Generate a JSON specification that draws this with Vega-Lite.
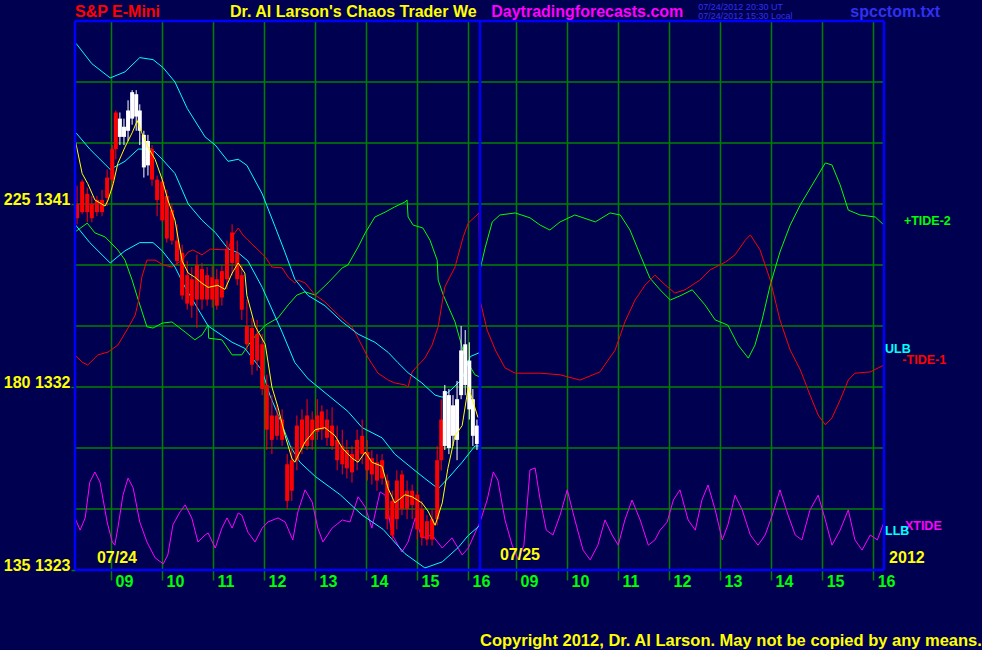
{
  "$schema": "https://vega.github.io/schema/vega-lite/v6.json",
  "width": 809,
  "height": 549,
  "autosize": {"type": "none"},
  "padding": {"left": 75, "top": 21, "right": 98, "bottom": 80},
  "background": "#000050",
  "config": {"view": {"stroke": null}, "axis": {"labelFont": "Liberation Sans", "labelFontWeight": "bold"}},
  "datasets": {
    "bars": [
      {"t":0.04,"h":1341.9,"l":1340.0,"o":1341.0,"c":1340.3,"k":"R"},
      {"t":0.14,"h":1342.2,"l":1340.5,"o":1342.1,"c":1340.6,"k":"R"},
      {"t":0.24,"h":1341.8,"l":1340.1,"o":1341.5,"c":1340.6,"k":"R"},
      {"t":0.33,"h":1341.4,"l":1340.1,"o":1341.0,"c":1340.3,"k":"R"},
      {"t":0.43,"h":1341.4,"l":1340.4,"o":1341.2,"c":1340.6,"k":"R"},
      {"t":0.53,"h":1341.7,"l":1340.4,"o":1341.2,"c":1340.6,"k":"R"},
      {"t":0.63,"h":1342.7,"l":1340.9,"o":1342.3,"c":1341.3,"k":"R"},
      {"t":0.73,"h":1343.9,"l":1341.7,"o":1343.7,"c":1342.2,"k":"R"},
      {"t":0.80,"h":1345.6,"l":1343.2,"o":1345.5,"c":1343.7,"k":"R"},
      {"t":0.88,"h":1345.5,"l":1343.9,"o":1345.2,"c":1344.3,"k":"W"},
      {"t":0.96,"h":1345.2,"l":1343.9,"o":1344.8,"c":1344.3,"k":"W"},
      {"t":1.04,"h":1346.1,"l":1344.1,"o":1345.6,"c":1344.6,"k":"W"},
      {"t":1.12,"h":1346.6,"l":1344.9,"o":1346.5,"c":1345.2,"k":"W"},
      {"t":1.20,"h":1346.6,"l":1344.6,"o":1346.4,"c":1345.3,"k":"W"},
      {"t":1.27,"h":1345.9,"l":1343.9,"o":1345.6,"c":1344.6,"k":"W"},
      {"t":1.35,"h":1344.6,"l":1342.3,"o":1344.4,"c":1342.8,"k":"W"},
      {"t":1.43,"h":1344.4,"l":1342.4,"o":1344.1,"c":1342.9,"k":"W"},
      {"t":1.51,"h":1343.9,"l":1341.9,"o":1343.7,"c":1342.2,"k":"R"},
      {"t":1.61,"h":1342.4,"l":1340.4,"o":1342.2,"c":1341.2,"k":"R"},
      {"t":1.71,"h":1342.3,"l":1340.1,"o":1342.1,"c":1340.2,"k":"R"},
      {"t":1.80,"h":1341.7,"l":1339.1,"o":1341.4,"c":1339.3,"k":"R"},
      {"t":1.90,"h":1341.0,"l":1339.0,"o":1340.7,"c":1339.2,"k":"R"},
      {"t":2.00,"h":1340.0,"l":1338.0,"o":1339.2,"c":1338.2,"k":"R"},
      {"t":2.10,"h":1339.0,"l":1336.3,"o":1338.6,"c":1336.5,"k":"R"},
      {"t":2.20,"h":1338.2,"l":1335.8,"o":1337.5,"c":1336.1,"k":"R"},
      {"t":2.29,"h":1337.9,"l":1335.4,"o":1337.3,"c":1336.0,"k":"R"},
      {"t":2.39,"h":1338.5,"l":1334.9,"o":1338.0,"c":1336.3,"k":"R"},
      {"t":2.49,"h":1338.1,"l":1335.8,"o":1337.8,"c":1336.3,"k":"R"},
      {"t":2.59,"h":1337.9,"l":1336.0,"o":1337.5,"c":1336.3,"k":"R"},
      {"t":2.69,"h":1338.0,"l":1335.9,"o":1337.4,"c":1336.3,"k":"R"},
      {"t":2.78,"h":1337.8,"l":1335.8,"o":1337.3,"c":1336.0,"k":"R"},
      {"t":2.88,"h":1338.0,"l":1336.0,"o":1337.7,"c":1336.4,"k":"R"},
      {"t":2.98,"h":1339.2,"l":1336.8,"o":1338.8,"c":1337.3,"k":"R"},
      {"t":3.08,"h":1340.0,"l":1337.5,"o":1339.6,"c":1338.1,"k":"R"},
      {"t":3.18,"h":1339.2,"l":1337.0,"o":1338.6,"c":1337.3,"k":"R"},
      {"t":3.27,"h":1338.0,"l":1335.3,"o":1337.5,"c":1335.8,"k":"R"},
      {"t":3.37,"h":1336.3,"l":1333.8,"o":1335.0,"c":1334.1,"k":"R"},
      {"t":3.47,"h":1335.4,"l":1332.6,"o":1334.9,"c":1333.1,"k":"R"},
      {"t":3.57,"h":1335.3,"l":1332.8,"o":1334.6,"c":1333.3,"k":"R"},
      {"t":3.67,"h":1334.6,"l":1331.6,"o":1334.1,"c":1331.9,"k":"R"},
      {"t":3.76,"h":1332.6,"l":1328.9,"o":1332.1,"c":1329.9,"k":"R"},
      {"t":3.86,"h":1331.6,"l":1328.7,"o":1330.6,"c":1329.4,"k":"R"},
      {"t":3.96,"h":1331.1,"l":1329.4,"o":1330.6,"c":1329.6,"k":"R"},
      {"t":4.06,"h":1330.9,"l":1329.1,"o":1330.4,"c":1329.4,"k":"R"},
      {"t":4.16,"h":1328.7,"l":1326.0,"o":1328.2,"c":1326.4,"k":"R"},
      {"t":4.25,"h":1329.1,"l":1326.4,"o":1328.4,"c":1326.9,"k":"R"},
      {"t":4.35,"h":1330.6,"l":1327.9,"o":1330.1,"c":1328.4,"k":"R"},
      {"t":4.45,"h":1330.9,"l":1328.7,"o":1330.4,"c":1329.0,"k":"R"},
      {"t":4.55,"h":1331.4,"l":1328.9,"o":1330.6,"c":1329.1,"k":"R"},
      {"t":4.65,"h":1330.8,"l":1328.9,"o":1330.4,"c":1329.4,"k":"R"},
      {"t":4.75,"h":1331.4,"l":1329.4,"o":1330.6,"c":1329.8,"k":"R"},
      {"t":4.84,"h":1331.1,"l":1329.4,"o":1330.8,"c":1329.9,"k":"R"},
      {"t":4.94,"h":1330.9,"l":1329.1,"o":1330.4,"c":1329.5,"k":"R"},
      {"t":5.04,"h":1331.0,"l":1328.9,"o":1330.1,"c":1329.1,"k":"R"},
      {"t":5.14,"h":1330.1,"l":1327.9,"o":1329.4,"c":1328.4,"k":"R"},
      {"t":5.24,"h":1329.9,"l":1327.7,"o":1329.1,"c":1328.2,"k":"R"},
      {"t":5.33,"h":1329.4,"l":1327.5,"o":1328.9,"c":1328.0,"k":"R"},
      {"t":5.43,"h":1329.1,"l":1327.3,"o":1328.7,"c":1327.8,"k":"R"},
      {"t":5.53,"h":1329.9,"l":1327.9,"o":1329.4,"c":1328.4,"k":"R"},
      {"t":5.63,"h":1330.4,"l":1328.2,"o":1329.6,"c":1328.7,"k":"R"},
      {"t":5.73,"h":1329.4,"l":1327.4,"o":1328.8,"c":1327.9,"k":"R"},
      {"t":5.82,"h":1328.9,"l":1327.2,"o":1328.5,"c":1327.7,"k":"R"},
      {"t":5.92,"h":1328.7,"l":1326.9,"o":1328.3,"c":1327.4,"k":"R"},
      {"t":6.02,"h":1328.7,"l":1327.2,"o":1328.4,"c":1327.5,"k":"R"},
      {"t":6.12,"h":1327.7,"l":1325.0,"o":1327.4,"c":1325.5,"k":"R"},
      {"t":6.22,"h":1326.9,"l":1324.5,"o":1326.4,"c":1324.7,"k":"R"},
      {"t":6.31,"h":1327.9,"l":1325.0,"o":1327.4,"c":1325.5,"k":"R"},
      {"t":6.41,"h":1327.9,"l":1325.7,"o":1327.7,"c":1326.0,"k":"R"},
      {"t":6.51,"h":1327.4,"l":1325.5,"o":1326.9,"c":1326.0,"k":"R"},
      {"t":6.61,"h":1327.2,"l":1325.5,"o":1326.9,"c":1326.2,"k":"R"},
      {"t":6.71,"h":1326.9,"l":1324.5,"o":1326.7,"c":1325.0,"k":"R"},
      {"t":6.80,"h":1326.4,"l":1324.2,"o":1326.0,"c":1324.6,"k":"R"},
      {"t":6.90,"h":1325.7,"l":1324.2,"o":1325.4,"c":1324.5,"k":"R"},
      {"t":7.00,"h":1326.0,"l":1324.2,"o":1325.5,"c":1324.5,"k":"R"},
      {"t":7.10,"h":1329.1,"l":1325.2,"o":1328.4,"c":1325.5,"k":"R"},
      {"t":7.18,"h":1331.4,"l":1327.9,"o":1330.4,"c":1328.4,"k":"R"},
      {"t":7.25,"h":1332.1,"l":1328.9,"o":1331.8,"c":1329.1,"k":"W"},
      {"t":7.33,"h":1331.9,"l":1328.7,"o":1331.6,"c":1329.0,"k":"W"},
      {"t":7.41,"h":1331.6,"l":1329.1,"o":1331.1,"c":1329.6,"k":"W"},
      {"t":7.49,"h":1332.3,"l":1328.4,"o":1331.4,"c":1329.4,"k":"W"},
      {"t":7.57,"h":1335.0,"l":1331.4,"o":1333.8,"c":1331.6,"k":"W"},
      {"t":7.65,"h":1334.8,"l":1331.6,"o":1334.1,"c":1332.1,"k":"W"},
      {"t":7.73,"h":1334.2,"l":1330.4,"o":1333.3,"c":1330.9,"k":"W"},
      {"t":7.80,"h":1331.9,"l":1329.1,"o":1331.4,"c":1329.6,"k":"W"},
      {"t":7.88,"h":1330.4,"l":1328.9,"o":1330.1,"c":1329.2,"k":"W"}
    ],
    "bands": [
      {"s":"ULB","t":0.02,"p":1348.9},{"s":"ULB","t":0.33,"p":1347.9},{"s":"ULB","t":0.69,"p":1347.2},{"s":"ULB","t":0.98,"p":1347.5},{"s":"ULB","t":1.27,"p":1348.2},{"s":"ULB","t":1.53,"p":1348.1},{"s":"ULB","t":1.73,"p":1347.7},{"s":"ULB","t":1.96,"p":1347.0},{"s":"ULB","t":2.20,"p":1345.7},{"s":"ULB","t":2.55,"p":1344.3},{"s":"ULB","t":2.75,"p":1343.9},{"s":"ULB","t":3.00,"p":1343.1},{"s":"ULB","t":3.20,"p":1343.2},{"s":"ULB","t":3.37,"p":1342.9},{"s":"ULB","t":3.67,"p":1341.5},{"s":"ULB","t":3.92,"p":1339.9},{"s":"ULB","t":4.12,"p":1338.6},{"s":"ULB","t":4.31,"p":1337.3},{"s":"ULB","t":4.57,"p":1336.5},{"s":"ULB","t":4.90,"p":1336.0},{"s":"ULB","t":5.24,"p":1335.2},{"s":"ULB","t":5.55,"p":1334.6},{"s":"ULB","t":5.88,"p":1334.2},{"s":"ULB","t":6.14,"p":1333.7},{"s":"ULB","t":6.33,"p":1333.2},{"s":"ULB","t":6.53,"p":1332.7},{"s":"ULB","t":6.80,"p":1332.2},{"s":"ULB","t":7.06,"p":1331.6},{"s":"ULB","t":7.20,"p":1331.5},{"s":"ULB","t":7.39,"p":1331.9},{"s":"ULB","t":7.59,"p":1332.4},{"s":"ULB","t":7.75,"p":1333.5},{"s":"ULB","t":7.94,"p":1333.7},
      {"s":"MID","t":0.02,"p":1344.5},{"s":"MID","t":0.29,"p":1343.7},{"s":"MID","t":0.69,"p":1342.7},{"s":"MID","t":0.98,"p":1343.1},{"s":"MID","t":1.24,"p":1343.7},{"s":"MID","t":1.51,"p":1343.7},{"s":"MID","t":1.71,"p":1343.2},{"s":"MID","t":1.96,"p":1342.5},{"s":"MID","t":2.22,"p":1341.0},{"s":"MID","t":2.49,"p":1340.2},{"s":"MID","t":2.75,"p":1339.6},{"s":"MID","t":3.00,"p":1338.8},{"s":"MID","t":3.20,"p":1338.6},{"s":"MID","t":3.39,"p":1338.2},{"s":"MID","t":3.67,"p":1336.9},{"s":"MID","t":4.06,"p":1334.7},{"s":"MID","t":4.31,"p":1333.2},{"s":"MID","t":4.57,"p":1332.4},{"s":"MID","t":4.96,"p":1331.6},{"s":"MID","t":5.35,"p":1330.8},{"s":"MID","t":5.63,"p":1330.0},{"s":"MID","t":6.02,"p":1329.5},{"s":"MID","t":6.27,"p":1328.7},{"s":"MID","t":6.61,"p":1328.0},{"s":"MID","t":6.86,"p":1327.5},{"s":"MID","t":7.12,"p":1327.0},{"s":"MID","t":7.31,"p":1327.5},{"s":"MID","t":7.59,"p":1328.3},{"s":"MID","t":7.84,"p":1329.1},{"s":"MID","t":7.94,"p":1329.1},
      {"s":"LLB","t":0.00,"p":1340.0},{"s":"LLB","t":0.29,"p":1339.1},{"s":"LLB","t":0.69,"p":1338.1},{"s":"LLB","t":0.98,"p":1338.7},{"s":"LLB","t":1.27,"p":1339.1},{"s":"LLB","t":1.53,"p":1339.1},{"s":"LLB","t":1.71,"p":1338.7},{"s":"LLB","t":1.96,"p":1337.9},{"s":"LLB","t":2.16,"p":1336.9},{"s":"LLB","t":2.61,"p":1335.0},{"s":"LLB","t":3.08,"p":1334.2},{"s":"LLB","t":3.33,"p":1333.9},{"s":"LLB","t":3.67,"p":1332.8},{"s":"LLB","t":3.82,"p":1331.6},{"s":"LLB","t":4.02,"p":1330.4},{"s":"LLB","t":4.22,"p":1329.1},{"s":"LLB","t":4.41,"p":1328.3},{"s":"LLB","t":4.71,"p":1327.6},{"s":"LLB","t":5.20,"p":1326.7},{"s":"LLB","t":5.63,"p":1325.7},{"s":"LLB","t":6.04,"p":1325.0},{"s":"LLB","t":6.47,"p":1323.8},{"s":"LLB","t":6.86,"p":1323.1},{"s":"LLB","t":7.20,"p":1323.4},{"s":"LLB","t":7.51,"p":1324.1},{"s":"LLB","t":7.71,"p":1324.7},{"s":"LLB","t":7.94,"p":1325.2}
    ],
    "ma": [
      {"s":"MA","t":0.00,"p":1344.2},{"s":"MA","t":0.14,"p":1342.5},{"s":"MA","t":0.25,"p":1342.0},{"s":"MA","t":0.39,"p":1341.2},{"s":"MA","t":0.59,"p":1340.9},{"s":"MA","t":0.65,"p":1341.2},{"s":"MA","t":0.75,"p":1342.0},{"s":"MA","t":0.84,"p":1343.0},{"s":"MA","t":0.98,"p":1343.8},{"s":"MA","t":1.12,"p":1344.5},{"s":"MA","t":1.22,"p":1345.1},{"s":"MA","t":1.31,"p":1344.5},{"s":"MA","t":1.43,"p":1343.8},{"s":"MA","t":1.57,"p":1343.2},{"s":"MA","t":1.71,"p":1342.2},{"s":"MA","t":1.82,"p":1341.2},{"s":"MA","t":1.96,"p":1340.2},{"s":"MA","t":2.10,"p":1338.2},{"s":"MA","t":2.22,"p":1337.6},{"s":"MA","t":2.35,"p":1337.4},{"s":"MA","t":2.49,"p":1337.1},{"s":"MA","t":2.61,"p":1336.9},{"s":"MA","t":2.80,"p":1337.0},{"s":"MA","t":2.94,"p":1336.8},{"s":"MA","t":3.08,"p":1337.6},{"s":"MA","t":3.20,"p":1338.1},{"s":"MA","t":3.33,"p":1337.6},{"s":"MA","t":3.37,"p":1336.5},{"s":"MA","t":3.53,"p":1335.0},{"s":"MA","t":3.73,"p":1334.1},{"s":"MA","t":3.86,"p":1332.0},{"s":"MA","t":3.98,"p":1331.0},{"s":"MA","t":4.12,"p":1329.6},{"s":"MA","t":4.25,"p":1328.5},{"s":"MA","t":4.31,"p":1328.3},{"s":"MA","t":4.51,"p":1329.3},{"s":"MA","t":4.71,"p":1329.9},{"s":"MA","t":4.90,"p":1330.0},{"s":"MA","t":5.10,"p":1329.6},{"s":"MA","t":5.24,"p":1329.0},{"s":"MA","t":5.43,"p":1328.5},{"s":"MA","t":5.55,"p":1328.3},{"s":"MA","t":5.69,"p":1328.8},{"s":"MA","t":5.82,"p":1328.3},{"s":"MA","t":6.02,"p":1328.1},{"s":"MA","t":6.14,"p":1327.0},{"s":"MA","t":6.27,"p":1326.3},{"s":"MA","t":6.47,"p":1326.7},{"s":"MA","t":6.61,"p":1326.6},{"s":"MA","t":6.80,"p":1326.3},{"s":"MA","t":6.92,"p":1325.9},{"s":"MA","t":7.06,"p":1325.2},{"s":"MA","t":7.20,"p":1326.3},{"s":"MA","t":7.31,"p":1328.0},{"s":"MA","t":7.45,"p":1329.6},{"s":"MA","t":7.59,"p":1330.1},{"s":"MA","t":7.71,"p":1332.0},{"s":"MA","t":7.80,"p":1331.3},{"s":"MA","t":7.90,"p":1330.5}
    ],
    "tides": [
      {"s":"TIDE2","t":0.00,"v":218.1},{"s":"TIDE2","t":0.24,"v":220.3},{"s":"TIDE2","t":0.39,"v":217.9},{"s":"TIDE2","t":0.59,"v":216.9},{"s":"TIDE2","t":0.84,"v":213.7},{"s":"TIDE2","t":0.98,"v":211.2},{"s":"TIDE2","t":1.12,"v":206.3},{"s":"TIDE2","t":1.24,"v":201.4},{"s":"TIDE2","t":1.41,"v":194.8},{"s":"TIDE2","t":1.53,"v":194.5},{"s":"TIDE2","t":1.71,"v":195.7},{"s":"TIDE2","t":1.90,"v":196.0},{"s":"TIDE2","t":2.16,"v":193.5},{"s":"TIDE2","t":2.35,"v":191.6},{"s":"TIDE2","t":2.49,"v":192.8},{"s":"TIDE2","t":2.61,"v":195.2},{"s":"TIDE2","t":2.62,"v":192.0},{"s":"TIDE2","t":2.88,"v":191.6},{"s":"TIDE2","t":3.08,"v":187.9},{"s":"TIDE2","t":3.27,"v":187.9},{"s":"TIDE2","t":3.47,"v":191.6},{"s":"TIDE2","t":3.73,"v":195.2},{"s":"TIDE2","t":3.98,"v":197.0},{"s":"TIDE2","t":4.18,"v":200.2},{"s":"TIDE2","t":4.35,"v":202.6},{"s":"TIDE2","t":4.51,"v":203.4},{"s":"TIDE2","t":4.71,"v":202.6},{"s":"TIDE2","t":4.96,"v":205.6},{"s":"TIDE2","t":5.24,"v":209.3},{"s":"TIDE2","t":5.35,"v":210.0},{"s":"TIDE2","t":5.55,"v":214.4},{"s":"TIDE2","t":5.69,"v":217.9},{"s":"TIDE2","t":5.88,"v":221.8},{"s":"TIDE2","t":6.08,"v":223.0},{"s":"TIDE2","t":6.27,"v":224.3},{"s":"TIDE2","t":6.47,"v":225.5},{"s":"TIDE2","t":6.51,"v":226.0},{"s":"TIDE2","t":6.53,"v":221.8},{"s":"TIDE2","t":6.63,"v":219.8},{"s":"TIDE2","t":6.82,"v":219.1},{"s":"TIDE2","t":6.96,"v":216.1},{"s":"TIDE2","t":7.10,"v":211.2},{"s":"TIDE2","t":7.12,"v":206.3},{"s":"TIDE2","t":7.22,"v":202.6},{"s":"TIDE2","t":7.45,"v":196.0},{"s":"TIDE2","t":7.65,"v":187.1},{"s":"TIDE2","t":7.84,"v":183.0},{"s":"TIDE2","t":7.93,"v":182.5},{"s":"TIDE2","t":7.94,"v":208.8},{"s":"TIDE2","t":8.04,"v":214.2},{"s":"TIDE2","t":8.18,"v":220.6},{"s":"TIDE2","t":8.33,"v":222.3},{"s":"TIDE2","t":8.63,"v":222.8},{"s":"TIDE2","t":8.92,"v":221.6},{"s":"TIDE2","t":9.12,"v":219.8},{"s":"TIDE2","t":9.31,"v":218.6},{"s":"TIDE2","t":9.51,"v":220.6},{"s":"TIDE2","t":9.80,"v":222.3},{"s":"TIDE2","t":10.20,"v":220.6},{"s":"TIDE2","t":10.49,"v":222.8},{"s":"TIDE2","t":10.69,"v":222.3},{"s":"TIDE2","t":10.88,"v":218.6},{"s":"TIDE2","t":11.08,"v":212.5},{"s":"TIDE2","t":11.27,"v":206.8},{"s":"TIDE2","t":11.47,"v":203.9},{"s":"TIDE2","t":11.67,"v":201.4},{"s":"TIDE2","t":11.86,"v":202.4},{"s":"TIDE2","t":12.10,"v":203.9},{"s":"TIDE2","t":12.35,"v":200.2},{"s":"TIDE2","t":12.55,"v":196.5},{"s":"TIDE2","t":12.80,"v":195.2},{"s":"TIDE2","t":13.00,"v":190.3},{"s":"TIDE2","t":13.20,"v":187.1},{"s":"TIDE2","t":13.33,"v":190.3},{"s":"TIDE2","t":13.47,"v":196.5},{"s":"TIDE2","t":13.63,"v":205.1},{"s":"TIDE2","t":13.82,"v":213.2},{"s":"TIDE2","t":14.02,"v":219.8},{"s":"TIDE2","t":14.22,"v":224.8},{"s":"TIDE2","t":14.51,"v":230.9},{"s":"TIDE2","t":14.71,"v":235.1},{"s":"TIDE2","t":14.84,"v":234.6},{"s":"TIDE2","t":15.00,"v":229.7},{"s":"TIDE2","t":15.16,"v":223.5},{"s":"TIDE2","t":15.39,"v":222.3},{"s":"TIDE2","t":15.69,"v":221.8},{"s":"TIDE2","t":15.86,"v":219.8},
      {"s":"TIDE1","t":0.00,"v":187.9},{"s":"TIDE1","t":0.14,"v":186.1},{"s":"TIDE1","t":0.25,"v":185.4},{"s":"TIDE1","t":0.45,"v":187.9},{"s":"TIDE1","t":0.65,"v":188.6},{"s":"TIDE1","t":0.84,"v":190.3},{"s":"TIDE1","t":1.04,"v":194.5},{"s":"TIDE1","t":1.18,"v":197.7},{"s":"TIDE1","t":1.24,"v":200.9},{"s":"TIDE1","t":1.31,"v":207.0},{"s":"TIDE1","t":1.41,"v":211.2},{"s":"TIDE1","t":1.57,"v":211.2},{"s":"TIDE1","t":1.73,"v":210.0},{"s":"TIDE1","t":1.90,"v":209.5},{"s":"TIDE1","t":2.10,"v":211.2},{"s":"TIDE1","t":2.22,"v":213.2},{"s":"TIDE1","t":2.31,"v":213.7},{"s":"TIDE1","t":2.49,"v":212.5},{"s":"TIDE1","t":2.65,"v":213.9},{"s":"TIDE1","t":3.00,"v":213.7},{"s":"TIDE1","t":3.08,"v":216.9},{"s":"TIDE1","t":3.20,"v":219.1},{"s":"TIDE1","t":3.29,"v":217.4},{"s":"TIDE1","t":3.39,"v":216.1},{"s":"TIDE1","t":3.59,"v":213.7},{"s":"TIDE1","t":3.73,"v":212.0},{"s":"TIDE1","t":3.86,"v":209.5},{"s":"TIDE1","t":4.06,"v":209.3},{"s":"TIDE1","t":4.18,"v":207.0},{"s":"TIDE1","t":4.31,"v":205.6},{"s":"TIDE1","t":4.37,"v":206.3},{"s":"TIDE1","t":4.51,"v":205.6},{"s":"TIDE1","t":4.71,"v":202.6},{"s":"TIDE1","t":4.90,"v":200.9},{"s":"TIDE1","t":5.16,"v":197.7},{"s":"TIDE1","t":5.43,"v":194.8},{"s":"TIDE1","t":5.55,"v":192.0},{"s":"TIDE1","t":5.75,"v":187.1},{"s":"TIDE1","t":5.94,"v":183.4},{"s":"TIDE1","t":6.14,"v":181.7},{"s":"TIDE1","t":6.27,"v":181.0},{"s":"TIDE1","t":6.47,"v":180.5},{"s":"TIDE1","t":6.53,"v":180.0},{"s":"TIDE1","t":6.61,"v":183.7},{"s":"TIDE1","t":6.73,"v":185.4},{"s":"TIDE1","t":6.86,"v":187.1},{"s":"TIDE1","t":7.00,"v":190.3},{"s":"TIDE1","t":7.12,"v":194.8},{"s":"TIDE1","t":7.20,"v":200.9},{"s":"TIDE1","t":7.25,"v":204.6},{"s":"TIDE1","t":7.45,"v":209.5},{"s":"TIDE1","t":7.61,"v":216.9},{"s":"TIDE1","t":7.71,"v":220.3},{"s":"TIDE1","t":7.92,"v":222.8},{"s":"TIDE1","t":7.94,"v":201.4},{"s":"TIDE1","t":8.08,"v":194.0},{"s":"TIDE1","t":8.24,"v":189.1},{"s":"TIDE1","t":8.43,"v":184.7},{"s":"TIDE1","t":8.63,"v":183.4},{"s":"TIDE1","t":9.12,"v":183.4},{"s":"TIDE1","t":9.51,"v":183.0},{"s":"TIDE1","t":9.90,"v":181.7},{"s":"TIDE1","t":10.29,"v":183.7},{"s":"TIDE1","t":10.59,"v":189.1},{"s":"TIDE1","t":10.78,"v":196.0},{"s":"TIDE1","t":10.98,"v":201.4},{"s":"TIDE1","t":11.18,"v":205.1},{"s":"TIDE1","t":11.37,"v":207.5},{"s":"TIDE1","t":11.57,"v":205.1},{"s":"TIDE1","t":11.76,"v":203.1},{"s":"TIDE1","t":11.96,"v":203.9},{"s":"TIDE1","t":12.25,"v":206.3},{"s":"TIDE1","t":12.45,"v":208.8},{"s":"TIDE1","t":12.75,"v":210.7},{"s":"TIDE1","t":12.94,"v":212.5},{"s":"TIDE1","t":13.14,"v":216.1},{"s":"TIDE1","t":13.24,"v":217.4},{"s":"TIDE1","t":13.43,"v":213.7},{"s":"TIDE1","t":13.63,"v":206.3},{"s":"TIDE1","t":13.82,"v":196.5},{"s":"TIDE1","t":14.02,"v":189.1},{"s":"TIDE1","t":14.22,"v":184.2},{"s":"TIDE1","t":14.41,"v":178.0},{"s":"TIDE1","t":14.57,"v":173.1},{"s":"TIDE1","t":14.71,"v":170.7},{"s":"TIDE1","t":14.84,"v":172.4},{"s":"TIDE1","t":15.00,"v":176.8},{"s":"TIDE1","t":15.16,"v":181.7},{"s":"TIDE1","t":15.29,"v":183.4},{"s":"TIDE1","t":15.59,"v":183.7},{"s":"TIDE1","t":15.86,"v":185.4},
      {"s":"XTIDE","t":0.00,"v":147.8},{"s":"XTIDE","t":0.10,"v":144.8},{"s":"XTIDE","t":0.20,"v":147.8},{"s":"XTIDE","t":0.29,"v":156.6},{"s":"XTIDE","t":0.39,"v":159.1},{"s":"XTIDE","t":0.49,"v":156.6},{"s":"XTIDE","t":0.63,"v":146.8},{"s":"XTIDE","t":0.73,"v":141.9},{"s":"XTIDE","t":0.78,"v":141.1},{"s":"XTIDE","t":0.84,"v":145.3},{"s":"XTIDE","t":0.94,"v":153.4},{"s":"XTIDE","t":1.04,"v":157.6},{"s":"XTIDE","t":1.14,"v":155.2},{"s":"XTIDE","t":1.27,"v":146.8},{"s":"XTIDE","t":1.41,"v":141.9},{"s":"XTIDE","t":1.57,"v":138.0},{"s":"XTIDE","t":1.73,"v":136.5},{"s":"XTIDE","t":1.82,"v":138.7},{"s":"XTIDE","t":1.92,"v":146.1},{"s":"XTIDE","t":2.06,"v":149.3},{"s":"XTIDE","t":2.16,"v":151.0},{"s":"XTIDE","t":2.29,"v":147.8},{"s":"XTIDE","t":2.41,"v":141.9},{"s":"XTIDE","t":2.55,"v":143.6},{"s":"XTIDE","t":2.61,"v":144.1},{"s":"XTIDE","t":2.75,"v":140.4},{"s":"XTIDE","t":2.88,"v":145.3},{"s":"XTIDE","t":2.98,"v":147.8},{"s":"XTIDE","t":3.08,"v":145.3},{"s":"XTIDE","t":3.20,"v":149.0},{"s":"XTIDE","t":3.27,"v":148.5},{"s":"XTIDE","t":3.39,"v":144.3},{"s":"XTIDE","t":3.53,"v":141.9},{"s":"XTIDE","t":3.67,"v":145.3},{"s":"XTIDE","t":3.78,"v":146.8},{"s":"XTIDE","t":3.98,"v":147.8},{"s":"XTIDE","t":4.12,"v":146.8},{"s":"XTIDE","t":4.27,"v":142.4},{"s":"XTIDE","t":4.37,"v":149.3},{"s":"XTIDE","t":4.51,"v":154.7},{"s":"XTIDE","t":4.65,"v":151.7},{"s":"XTIDE","t":4.76,"v":145.3},{"s":"XTIDE","t":4.86,"v":141.9},{"s":"XTIDE","t":5.04,"v":145.3},{"s":"XTIDE","t":5.24,"v":147.3},{"s":"XTIDE","t":5.39,"v":146.8},{"s":"XTIDE","t":5.55,"v":153.0},{"s":"XTIDE","t":5.69,"v":150.5},{"s":"XTIDE","t":5.82,"v":145.3},{"s":"XTIDE","t":5.98,"v":154.2},{"s":"XTIDE","t":6.08,"v":153.4},{"s":"XTIDE","t":6.22,"v":143.6},{"s":"XTIDE","t":6.41,"v":139.4},{"s":"XTIDE","t":6.53,"v":141.9},{"s":"XTIDE","t":6.67,"v":147.8},{"s":"XTIDE","t":6.80,"v":142.9},{"s":"XTIDE","t":7.00,"v":143.6},{"s":"XTIDE","t":7.20,"v":140.4},{"s":"XTIDE","t":7.39,"v":142.9},{"s":"XTIDE","t":7.59,"v":138.7},{"s":"XTIDE","t":7.71,"v":140.4},{"s":"XTIDE","t":7.94,"v":146.8},{"s":"XTIDE","t":8.08,"v":152.2},{"s":"XTIDE","t":8.20,"v":159.1},{"s":"XTIDE","t":8.29,"v":157.1},{"s":"XTIDE","t":8.43,"v":147.3},{"s":"XTIDE","t":8.57,"v":141.1},{"s":"XTIDE","t":8.69,"v":137.5},{"s":"XTIDE","t":8.80,"v":141.1},{"s":"XTIDE","t":8.92,"v":159.6},{"s":"XTIDE","t":9.02,"v":160.1},{"s":"XTIDE","t":9.12,"v":152.2},{"s":"XTIDE","t":9.24,"v":144.8},{"s":"XTIDE","t":9.37,"v":143.6},{"s":"XTIDE","t":9.51,"v":148.5},{"s":"XTIDE","t":9.65,"v":154.7},{"s":"XTIDE","t":9.80,"v":147.3},{"s":"XTIDE","t":9.96,"v":139.9},{"s":"XTIDE","t":10.10,"v":137.5},{"s":"XTIDE","t":10.25,"v":141.1},{"s":"XTIDE","t":10.39,"v":147.3},{"s":"XTIDE","t":10.53,"v":143.6},{"s":"XTIDE","t":10.65,"v":141.1},{"s":"XTIDE","t":10.78,"v":147.3},{"s":"XTIDE","t":10.92,"v":152.2},{"s":"XTIDE","t":11.08,"v":147.3},{"s":"XTIDE","t":11.24,"v":141.1},{"s":"XTIDE","t":11.37,"v":142.4},{"s":"XTIDE","t":11.47,"v":144.8},{"s":"XTIDE","t":11.61,"v":146.8},{"s":"XTIDE","t":11.73,"v":152.2},{"s":"XTIDE","t":11.86,"v":154.7},{"s":"XTIDE","t":12.02,"v":147.3},{"s":"XTIDE","t":12.16,"v":144.8},{"s":"XTIDE","t":12.29,"v":152.2},{"s":"XTIDE","t":12.41,"v":155.9},{"s":"XTIDE","t":12.55,"v":149.8},{"s":"XTIDE","t":12.69,"v":142.4},{"s":"XTIDE","t":12.80,"v":146.1},{"s":"XTIDE","t":12.94,"v":153.4},{"s":"XTIDE","t":13.08,"v":149.8},{"s":"XTIDE","t":13.24,"v":143.6},{"s":"XTIDE","t":13.39,"v":141.1},{"s":"XTIDE","t":13.53,"v":143.6},{"s":"XTIDE","t":13.67,"v":148.5},{"s":"XTIDE","t":13.82,"v":154.7},{"s":"XTIDE","t":13.98,"v":148.5},{"s":"XTIDE","t":14.12,"v":143.6},{"s":"XTIDE","t":14.25,"v":142.4},{"s":"XTIDE","t":14.41,"v":149.8},{"s":"XTIDE","t":14.57,"v":153.4},{"s":"XTIDE","t":14.71,"v":147.3},{"s":"XTIDE","t":14.84,"v":141.1},{"s":"XTIDE","t":15.00,"v":144.8},{"s":"XTIDE","t":15.16,"v":149.8},{"s":"XTIDE","t":15.29,"v":142.4},{"s":"XTIDE","t":15.43,"v":139.9},{"s":"XTIDE","t":15.59,"v":143.6},{"s":"XTIDE","t":15.73,"v":142.4},{"s":"XTIDE","t":15.86,"v":146.8}
    ]
  },
  "resolve": {"scale": {"y": "independent"}},
  "layer": [
    {
      "data": {"values": [{"p":1326},{"p":1329},{"p":1332},{"p":1335},{"p":1338},{"p":1341},{"p":1344},{"p":1347}]},
      "mark": {"type": "rule", "color": "#008000", "strokeWidth": 1.5},
      "encoding": {
        "y": {"field": "p", "type": "quantitative", "scale": {"domain": [1323, 1350], "nice": false, "zero": false},
          "axis": {"values": [1323, 1332, 1341], "labelExpr": "(135 + (datum.value - 1323) * 5) + ' ' + datum.value", "grid": false, "domain": false, "tickColor": "#008000", "tickSize": 4, "tickWidth": 1.5, "labelColor": "#FFFF00", "labelFontSize": 16, "labelBaseline": "alphabetic", "labelPadding": 1, "title": null, "labelFlush": false, "labelOverlap": false}}
      }
    },
    {
      "data": {"name": "tides"},
      "mark": {"type": "line", "strokeWidth": 1},
      "encoding": {
        "x": {"field": "t", "type": "quantitative", "scale": {"domain": [0, 15.86], "nice": false, "zero": false},
          "axis": {"values": [0.706, 1.706, 2.706, 3.706, 4.706, 5.706, 6.706, 7.706, 8.647, 9.647, 10.647, 11.647, 12.647, 13.647, 14.647, 15.647], "labelExpr": "pad(toString(round(datum.value < 7.94 ? datum.value + 8.294 : datum.value + 0.353)), 2, '0', 'left')", "grid": true, "gridColor": "#008000", "gridWidth": 1.5, "domain": false, "tickColor": "#008000", "tickSize": 10, "tickWidth": 1.5, "labelColor": "#00FF00", "labelFontSize": 16, "labelAlign": "left", "labelBaseline": "top", "labelOffset": 4, "labelPadding": -7, "title": null, "labelFlush": false, "labelOverlap": false}},
        "y": {"field": "v", "type": "quantitative", "scale": {"domain": [135, 270], "nice": false, "zero": false}, "axis": null},
        "color": {"field": "s", "type": "nominal", "scale": {"domain": ["ULB","MID","LLB","MA","TIDE2","TIDE1","XTIDE","R","W"], "range": ["#00FFFF","#00FFFF","#00FFFF","#FFFF00","#00FF00","#FF0000","#FF00FF","#FF0000","#FFFFFF"]}, "legend": null}
      }
    },
    {
      "data": {"name": "bands"},
      "mark": {"type": "line", "strokeWidth": 1},
      "encoding": {
        "x": {"field": "t", "type": "quantitative", "scale": {"domain": [0, 15.86], "nice": false, "zero": false}},
        "y": {"field": "p", "type": "quantitative", "scale": {"domain": [1323, 1350], "nice": false, "zero": false}, "axis": null},
        "color": {"field": "s", "type": "nominal", "legend": null}
      }
    },
    {
      "data": {"name": "bars"},
      "mark": {"type": "rule", "strokeWidth": 1},
      "encoding": {
        "x": {"field": "t", "type": "quantitative", "scale": {"domain": [0, 15.86], "nice": false, "zero": false}},
        "y": {"field": "l", "type": "quantitative", "scale": {"domain": [1323, 1350], "nice": false, "zero": false}, "axis": null},
        "y2": {"field": "h"},
        "color": {"field": "k", "type": "nominal", "legend": null}
      }
    },
    {
      "data": {"name": "bars"},
      "mark": {"type": "rule", "strokeWidth": 4},
      "encoding": {
        "x": {"field": "t", "type": "quantitative", "scale": {"domain": [0, 15.86], "nice": false, "zero": false}},
        "y": {"field": "c", "type": "quantitative", "scale": {"domain": [1323, 1350], "nice": false, "zero": false}, "axis": null},
        "y2": {"field": "o"},
        "color": {"field": "k", "type": "nominal", "legend": null}
      }
    },
    {
      "data": {"name": "ma"},
      "mark": {"type": "line", "strokeWidth": 1},
      "encoding": {
        "x": {"field": "t", "type": "quantitative", "scale": {"domain": [0, 15.86], "nice": false, "zero": false}},
        "y": {"field": "p", "type": "quantitative", "scale": {"domain": [1323, 1350], "nice": false, "zero": false}, "axis": null},
        "color": {"field": "s", "type": "nominal", "legend": null}
      }
    },
    {
      "data": {"values": [{"t": 0}, {"t": 7.94}, {"t": 15.86}]},
      "mark": {"type": "rule", "color": "#0000FF", "strokeWidth": 2.5},
      "encoding": {"x": {"field": "t", "type": "quantitative", "scale": {"domain": [0, 15.86], "nice": false, "zero": false}}}
    },
    {
      "data": {"values": [{"p": 1323}, {"p": 1350}]},
      "mark": {"type": "rule", "color": "#0000FF", "strokeWidth": 2.5},
      "encoding": {"y": {"field": "p", "type": "quantitative", "scale": {"domain": [1323, 1350], "nice": false, "zero": false}, "axis": null}}
    },
    {
      "data": {"values": [
        {"s": "TIDE2", "label": "+TIDE-2", "t": 16.25, "p": 1339.97},
        {"s": "ULB", "label": "ULB", "t": 15.88, "p": 1333.67},
        {"s": "TIDE1", "label": "-TIDE-1", "t": 16.22, "p": 1333.13},
        {"s": "XTIDE", "label": "XTIDE", "t": 16.27, "p": 1324.97},
        {"s": "LLB", "label": "LLB", "t": 15.88, "p": 1324.72}
      ]},
      "mark": {"type": "text", "align": "left", "baseline": "alphabetic", "font": "Liberation Sans", "fontWeight": "bold", "fontSize": 12.5},
      "encoding": {
        "x": {"field": "t", "type": "quantitative", "scale": {"domain": [0, 15.86], "nice": false, "zero": false}},
        "y": {"field": "p", "type": "quantitative", "scale": {"domain": [1323, 1350], "nice": false, "zero": false}, "axis": null},
        "text": {"field": "label"},
        "color": {"field": "s", "type": "nominal", "legend": null}
      }
    },
    {
      "data": {"values": [
        {"label": "Dr. Al Larson's Chaos Trader We", "t": 3.04, "p": 1350.2},
        {"label": "07/24", "t": 0.43, "p": 1323.34},
        {"label": "07/25", "t": 8.33, "p": 1323.49},
        {"label": "2012", "t": 15.96, "p": 1323.34}
      ]},
      "mark": {"type": "text", "align": "left", "baseline": "alphabetic", "font": "Liberation Sans", "fontWeight": "bold", "fontSize": 16, "color": "#FFFF00"},
      "encoding": {
        "x": {"field": "t", "type": "quantitative", "scale": {"domain": [0, 15.86], "nice": false, "zero": false}},
        "y": {"field": "p", "type": "quantitative", "scale": {"domain": [1323, 1350], "nice": false, "zero": false}, "axis": null},
        "text": {"field": "label"}
      }
    },
    {
      "data": {"values": [{"label": "Copyright 2012, Dr. Al Larson. May not be copied by any means.", "t": 7.94, "p": 1319.26}]},
      "mark": {"type": "text", "align": "left", "baseline": "alphabetic", "font": "Liberation Sans", "fontWeight": "bold", "fontSize": 16.5, "color": "#FFFF00"},
      "encoding": {
        "x": {"field": "t", "type": "quantitative", "scale": {"domain": [0, 15.86], "nice": false, "zero": false}},
        "y": {"field": "p", "type": "quantitative", "scale": {"domain": [1323, 1350], "nice": false, "zero": false}, "axis": null},
        "text": {"field": "label"}
      }
    },
    {
      "data": {"values": [{"label": "S&P E-Mini", "t": 0, "p": 1350.2}]},
      "mark": {"type": "text", "align": "left", "baseline": "alphabetic", "font": "Liberation Sans", "fontWeight": "bold", "fontSize": 16, "color": "#FF0000"},
      "encoding": {
        "x": {"field": "t", "type": "quantitative", "scale": {"domain": [0, 15.86], "nice": false, "zero": false}},
        "y": {"field": "p", "type": "quantitative", "scale": {"domain": [1323, 1350], "nice": false, "zero": false}, "axis": null},
        "text": {"field": "label"}
      }
    },
    {
      "data": {"values": [{"label": "Daytradingforecasts.com", "t": 8.16, "p": 1350.2}]},
      "mark": {"type": "text", "align": "left", "baseline": "alphabetic", "font": "Liberation Sans", "fontWeight": "bold", "fontSize": 16, "color": "#FF00FF"},
      "encoding": {
        "x": {"field": "t", "type": "quantitative", "scale": {"domain": [0, 15.86], "nice": false, "zero": false}},
        "y": {"field": "p", "type": "quantitative", "scale": {"domain": [1323, 1350], "nice": false, "zero": false}, "axis": null},
        "text": {"field": "label"}
      }
    },
    {
      "data": {"values": [{"label": "spcctom.txt", "t": 15.2, "p": 1350.2}]},
      "mark": {"type": "text", "align": "left", "baseline": "alphabetic", "font": "Liberation Sans", "fontWeight": "bold", "fontSize": 16, "color": "#3030F0"},
      "encoding": {
        "x": {"field": "t", "type": "quantitative", "scale": {"domain": [0, 15.86], "nice": false, "zero": false}},
        "y": {"field": "p", "type": "quantitative", "scale": {"domain": [1323, 1350], "nice": false, "zero": false}, "axis": null},
        "text": {"field": "label"}
      }
    },
    {
      "data": {"values": [
        {"label": "07/24/2012 20:30 UT", "t": 12.22, "p": 1350.56},
        {"label": "07/24/2012 15:30 Local", "t": 12.22, "p": 1350.12}
      ]},
      "mark": {"type": "text", "align": "left", "baseline": "alphabetic", "font": "Liberation Sans", "fontSize": 9, "color": "#3030F0"},
      "encoding": {
        "x": {"field": "t", "type": "quantitative", "scale": {"domain": [0, 15.86], "nice": false, "zero": false}},
        "y": {"field": "p", "type": "quantitative", "scale": {"domain": [1323, 1350], "nice": false, "zero": false}, "axis": null},
        "text": {"field": "label"}
      }
    }
  ]
}
